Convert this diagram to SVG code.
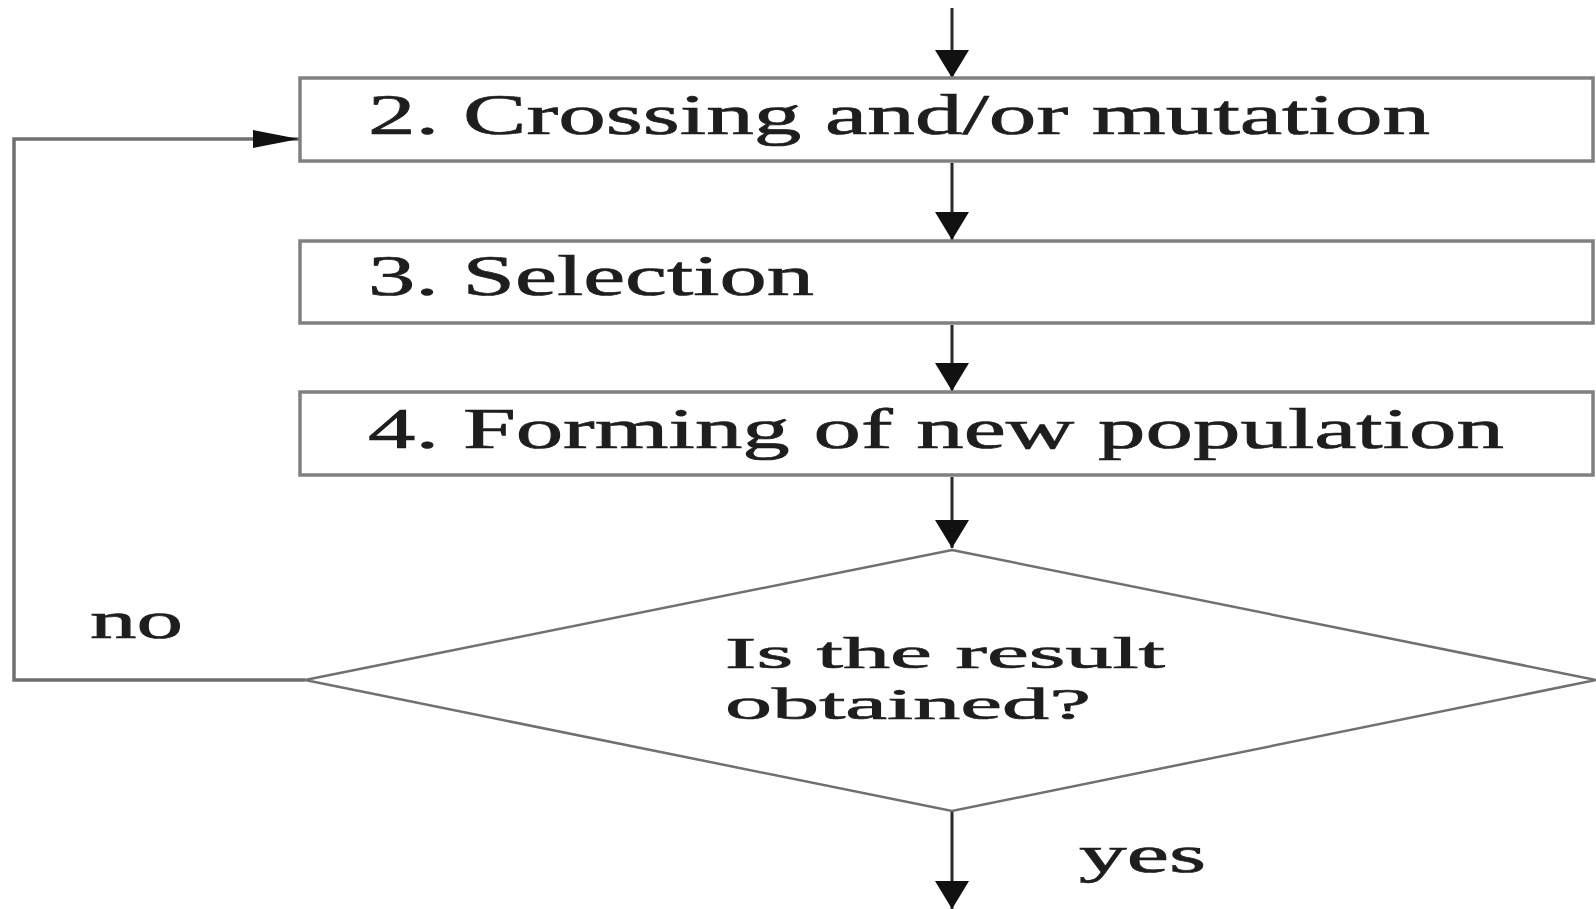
<svg xmlns="http://www.w3.org/2000/svg" width="1596" height="909" viewBox="0 0 1596 909">
  <style>
    .box { fill: #ffffff; stroke: #808080; stroke-width: 3.5; }
    .dia { fill: #ffffff; stroke: #707070; stroke-width: 2.5; }
    .conn { fill: none; stroke: #2a2a2a; stroke-width: 3; }
    .loop { fill: none; stroke: #707070; stroke-width: 3.5; }
    .lbl { font-family: "Liberation Serif", "Times New Roman", serif; fill: #1e1e1e; stroke: #1e1e1e; stroke-width: 0.7; }
    .big { font-size: 56px; }
    .mid { font-size: 52px; }
    .dtx { font-size: 45px; }
  </style>
  <defs>
    <marker id="ahBig" viewBox="0 0 28 34" refX="28" refY="17" markerWidth="28" markerHeight="34" markerUnits="userSpaceOnUse" orient="auto">
      <path d="M0,0 L28,17 L0,34 Z" fill="#111"/>
    </marker>
    <marker id="ahSide" viewBox="0 0 46 18" refX="46" refY="9" markerWidth="46" markerHeight="18" markerUnits="userSpaceOnUse" orient="auto">
      <path d="M0,0 L46,9 L0,18 Z" fill="#111"/>
    </marker>
  </defs>

  <rect x="0" y="0" width="1596" height="909" fill="#ffffff"/>

  <g id="connectors">
    <line class="conn" x1="952" y1="8" x2="952" y2="78" marker-end="url(#ahBig)"/>
    <line class="conn" x1="952" y1="163" x2="952" y2="240" marker-end="url(#ahBig)"/>
    <line class="conn" x1="952" y1="325" x2="952" y2="391" marker-end="url(#ahBig)"/>
    <line class="conn" x1="952" y1="477" x2="952" y2="548" marker-end="url(#ahBig)"/>
    <line class="conn" x1="952" y1="811" x2="952" y2="909" marker-end="url(#ahBig)"/>
    <polyline class="loop" points="305,680 14,680 14,139 299,139" marker-end="url(#ahSide)"/>
    <text class="lbl mid" x="90" y="638" textLength="93" lengthAdjust="spacingAndGlyphs">no</text>
    <text class="lbl mid" x="1079" y="872" textLength="127" lengthAdjust="spacingAndGlyphs">yes</text>
  </g>

  <g id="node-crossing">
    <rect class="box" x="300" y="78" width="1293" height="83"/>
    <text class="lbl big" x="368" y="134" textLength="1062" lengthAdjust="spacingAndGlyphs">2. Crossing and/or mutation</text>
  </g>

  <g id="node-selection">
    <rect class="box" x="300" y="241" width="1293" height="82"/>
    <text class="lbl big" x="368" y="295" textLength="446" lengthAdjust="spacingAndGlyphs">3. Selection</text>
  </g>

  <g id="node-forming">
    <rect class="box" x="300" y="392" width="1293" height="83"/>
    <text class="lbl big" x="368" y="448" textLength="1136" lengthAdjust="spacingAndGlyphs">4. Forming of new population</text>
  </g>

  <g id="node-decision">
    <polygon class="dia" points="952,550 1596,680 952,811 305,680"/>
    <text class="lbl dtx" x="725" y="668" textLength="440" lengthAdjust="spacingAndGlyphs">Is the result</text>
    <text class="lbl dtx" x="725" y="719" textLength="366" lengthAdjust="spacingAndGlyphs">obtained?</text>
  </g>
</svg>
